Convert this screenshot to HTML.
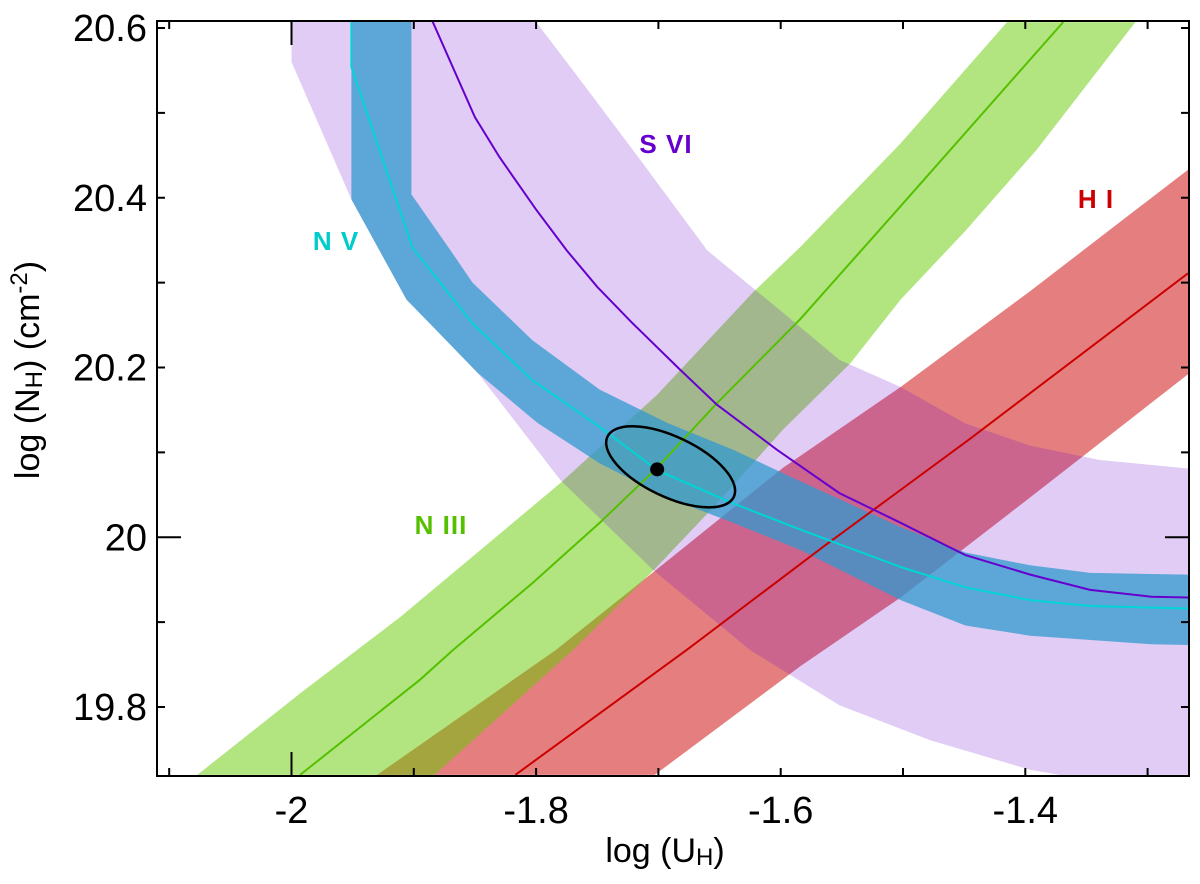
<!DOCTYPE html>
<html><head><meta charset="utf-8">
<style>
html,body{margin:0;padding:0;background:#fff;}
svg{display:block;}
text{font-family:"Liberation Sans",Arial,sans-serif;}
</style></head>
<body>
<svg id="chart" width="1200" height="884" viewBox="0 0 1200 884" xmlns="http://www.w3.org/2000/svg">
<defs><clipPath id="plotclip"><rect x="157" y="21" width="1032" height="755"/></clipPath></defs>
<g id="bands" clip-path="url(#plotclip)"></g>
<g id="lines" clip-path="url(#plotclip)"></g>
<g id="axes"></g>
<text x="666" y="153" font-size="26" font-weight="bold" fill="#6600cc" text-anchor="middle" letter-spacing="1">S VI</text>
<text x="336" y="250" font-size="26" font-weight="bold" fill="#00cccc" text-anchor="middle" letter-spacing="1">N V</text>
<text x="1096" y="208" font-size="26" font-weight="bold" fill="#cc0000" text-anchor="middle" letter-spacing="1">H I</text>
<text x="441" y="534" font-size="26" font-weight="bold" fill="#55c000" text-anchor="middle" letter-spacing="1">N III</text>
<text x="665" y="862" font-size="34" text-anchor="middle">log (U<tspan font-size="24" dy="3">H</tspan><tspan dy="-3">)</tspan></text>
<text transform="translate(39,370) rotate(-90)" font-size="34" text-anchor="middle">log (N<tspan font-size="24" dy="3">H</tspan><tspan dy="-3">) (cm</tspan><tspan font-size="24" dy="-12">-2</tspan><tspan dy="12">)</tspan></text>
</svg>
<script>
// ---- data ----
const xTicksMajor = [-2, -1.8, -1.6, -1.4];
const xTickLabels = ["-2", "-1.8", "-1.6", "-1.4"];
const xTicksMinor = [-2.1, -2.0, -1.9, -1.8, -1.7, -1.6, -1.5, -1.4, -1.3];
const yTicksMajor = [19.8, 20.0, 20.2, 20.4, 20.6];
const yTickLabels = ["19.8", "20", "20.2", "20.4", "20.6"];
const yTicksMinor = [19.8, 19.9, 20.0, 20.1, 20.2, 20.3, 20.4, 20.5, 20.6];

const n3LineU = [-1.993,-1.895,-1.868,-1.803,-1.748,-1.701,-1.652,-1.584,-1.502,-1.369];
const n3LineN = [19.720,19.832,19.867,19.946,20.017,20.082,20.158,20.257,20.390,20.607];
const n3UpU = [-2.077,-1.993,-1.911,-1.780,-1.701,-1.623,-1.584,-1.502,-1.415];
const n3UpN = [19.720,19.816,19.906,20.064,20.168,20.288,20.342,20.464,20.607];
const n3LoU = [-1.883,-1.770,-1.704,-1.652,-1.598,-1.543,-1.502,-1.449,-1.391,-1.310];
const n3LoN = [19.720,19.867,19.961,20.040,20.127,20.205,20.280,20.361,20.456,20.607];

const h1LineU = [-1.817,-1.677,-1.565,-1.446,-1.267];
const h1LineN = [19.720,19.867,19.989,20.115,20.311];
const h1UpU = [-1.930,-1.784,-1.704,-1.598,-1.502,-1.396,-1.267];
const h1UpN = [19.720,19.867,19.959,20.082,20.177,20.290,20.433];
const h1LoU = [-1.703,-1.584,-1.502,-1.396,-1.267];
const h1LoN = [19.720,19.848,19.929,20.047,20.192];

const s6LineU = [-1.885,-1.850,-1.830,-1.800,-1.775,-1.750,-1.721,-1.682,-1.652,-1.603,-1.552,-1.502,-1.449,-1.396,-1.347,-1.297,-1.267];
const s6LineN = [20.609,20.495,20.448,20.386,20.338,20.295,20.252,20.197,20.156,20.103,20.052,20.017,19.979,19.956,19.938,19.930,19.929];
const s6UpU = [-1.801,-1.764,-1.715,-1.660,-1.601,-1.552,-1.502,-1.449,-1.396,-1.339,-1.267];
const s6UpN = [20.609,20.539,20.445,20.338,20.268,20.209,20.177,20.134,20.108,20.091,20.081];
const s6LoU = [-2.000,-2.000,-1.951,-1.906,-1.884,-1.848,-1.780,-1.704,-1.625,-1.552,-1.478,-1.396,-1.372,-1.267];
const s6LoN = [20.609,20.560,20.398,20.280,20.248,20.194,20.067,19.961,19.867,19.802,19.761,19.726,19.720,19.720];

const n5LineU = [-1.951,-1.951,-1.901,-1.852,-1.803,-1.748,-1.701,-1.639,-1.584,-1.502,-1.449,-1.396,-1.347,-1.267];
const n5LineN = [20.609,20.554,20.341,20.252,20.185,20.130,20.079,20.040,20.009,19.965,19.941,19.926,19.919,19.916];
const n5UpU = [-1.902,-1.902,-1.870,-1.852,-1.803,-1.748,-1.693,-1.639,-1.584,-1.502,-1.449,-1.396,-1.347,-1.267];
const n5UpN = [20.609,20.404,20.338,20.300,20.232,20.174,20.135,20.103,20.066,20.012,19.982,19.967,19.958,19.956];
const n5LoU = [-1.951,-1.951,-1.906,-1.848,-1.799,-1.748,-1.693,-1.639,-1.584,-1.502,-1.449,-1.396,-1.297,-1.267];
const n5LoN = [20.609,20.398,20.280,20.194,20.135,20.087,20.047,20.017,19.985,19.926,19.896,19.884,19.874,19.873];

const solutionU = [-1.701];
const solutionN = [20.080];
const ellipseCenterU = [-1.690];
const ellipseCenterN = [20.083];

// ---- scales ----
const X0 = 157, X1 = 1189, Y0 = 21, Y1 = 776;
function xs(u){ return 291.5 + (u + 2) * 1223; }
function ys(n){ return 537.25 - (n - 20) * 848.75; }
const NS = "http://www.w3.org/2000/svg";
function mk(tag, attrs, parent){
  const e = document.createElementNS(NS, tag);
  for (const k in attrs) e.setAttribute(k, attrs[k]);
  parent.appendChild(e); return e;
}
function pts(U, N){ return U.map((u,i)=>xs(u).toFixed(1)+","+ys(N[i]).toFixed(1)); }

const bands = document.getElementById('bands');
const lines = document.getElementById('lines');
const axes = document.getElementById('axes');

function band(upU, upN, loU, loN, fill, op, name){
  const p = pts(upU, upN).concat(pts(loU, loN).reverse());
  const el = mk('polygon', {points: p.join(' '), fill: fill, 'fill-opacity': op}, bands);
  
  
}
band(h1UpU, h1UpN, h1LoU, h1LoN, '#cc0000', 0.5, 'h-i-band');
band(n3UpU, n3UpN, n3LoU, n3LoN, '#66cc00', 0.5, 'n-iii-band');
band(s6UpU, s6UpN, s6LoU, s6LoN, '#6600cc', 0.2, 's-vi-band');
band(n5UpU, n5UpN, n5LoU, n5LoN, '#329ace', 0.75, 'n-v-band');

function line(U, N, color, name){
  const el = mk('polyline', {points: pts(U, N).join(' '), fill: 'none', stroke: color, 'stroke-width': 2}, lines);
  
  
}
line(h1LineU, h1LineN, '#cc0000', 'h-i-line');
line(n3LineU, n3LineN, '#55c000', 'n-iii-line');
line(s6LineU, s6LineN, '#6600cc', 's-vi-line');
line(n5LineU, n5LineN, '#00d4d4', 'n-v-line');

const cx = xs(ellipseCenterU[0]), cy = ys(ellipseCenterN[0]);
const ell = mk('ellipse', {cx: cx, cy: cy, rx: 70, ry: 30, transform: 'rotate(25.5 '+cx+' '+cy+')', fill: 'none', stroke: '#000', 'stroke-width': 2.5}, lines);


const dot = mk('circle', {cx: xs(solutionU[0]), cy: ys(solutionN[0]), r: 7, fill: '#000'}, lines);



// ---- axes ----
const frame = mk('rect', {x: X0, y: Y0, width: X1-X0, height: Y1-Y0, fill: 'none', stroke: '#000', 'stroke-width': 2}, axes);


xTicksMinor.forEach(v=>{
  const x = xs(v);
  const len = Math.abs(v + 2) < 1e-6 ? 24 : 8;
  const t1 = mk('line', {x1: x, x2: x, y1: Y1, y2: Y1-len, stroke: '#000', 'stroke-width': 2}, axes);
  
  
  const t2 = mk('line', {x1: x, x2: x, y1: Y0, y2: Y0+len, stroke: '#000', 'stroke-width': 2}, axes);
  
  
});
yTicksMinor.forEach(v=>{
  const y = ys(v);
  const len = Math.abs(v - 20) < 1e-6 ? 24 : 8;
  const t1 = mk('line', {x1: X0, x2: X0+len, y1: y, y2: y, stroke: '#000', 'stroke-width': 2}, axes);
  
  
  const t2 = mk('line', {x1: X1, x2: X1-len, y1: y, y2: y, stroke: '#000', 'stroke-width': 2}, axes);
  
  
});
xTicksMajor.forEach((v,i)=>{
  const t = mk('text', {x: xs(v), y: 823, 'font-size': 38, 'text-anchor': 'middle'}, axes);
  t.textContent = xTickLabels[i];
  
  
});
yTicksMajor.forEach((v,i)=>{
  const t = mk('text', {x: 147, y: ys(v)+13, 'font-size': 38, 'text-anchor': 'end'}, axes);
  t.textContent = yTickLabels[i];
  
  
});
</script>
</body></html>
